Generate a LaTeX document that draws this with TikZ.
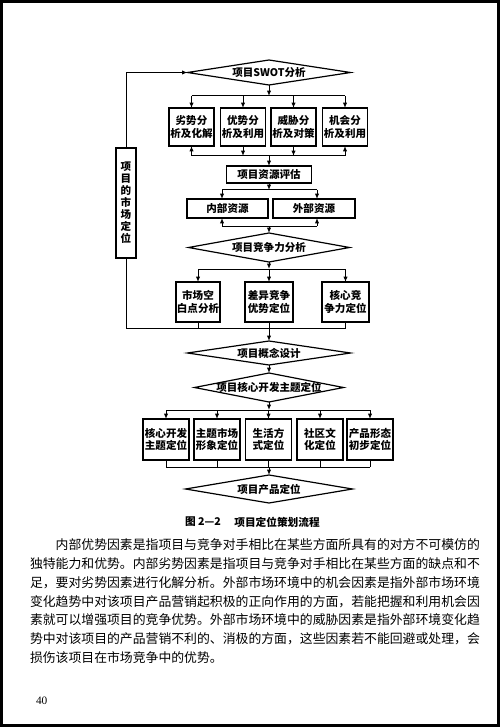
\documentclass[tikz,border=0pt]{standalone}
\usepackage{fontspec}
\setmainfont{Liberation Serif}
\newfontfamily\cjk{Noto Sans CJK SC}
\usetikzlibrary{shapes.geometric,arrows.meta}
\begin{document}
\begin{tikzpicture}[x=0.75pt,y=-0.75pt,
  every node/.style={inner sep=0pt,outer sep=0pt},
  flowbox/.style={draw,line width=0.9pt,align=center,font=\cjk\bfseries\fontsize{7.9pt}{9.2pt}\selectfont},
  flowdia/.style={draw,diamond,line width=0.9pt},
  flowtxt/.style={font=\cjk\bfseries\fontsize{7.9pt}{9.2pt}\selectfont},
  link/.style={line width=0.75pt},
  arr/.style={link,-{Latex[length=4pt,width=3.2pt]}},
  para/.style={anchor=west,font=\cjk\fontsize{9.64pt}{9.64pt}\selectfont}]
\useasboundingbox (0,0) rectangle (500,727);
\fill[white] (0,0) rectangle (500,727);
\draw[line width=2.2pt] (1.5,1.5) rectangle (498.5,725.5);

% ---- stage 1: SWOT
\node[flowdia,minimum width=122.25pt,minimum height=18.75pt] (swot) at (269,72.5) {};
\node[flowtxt] at (swot.center) {项目SWOT分析};
\node[flowbox,minimum width=33.75pt,minimum height=28.5pt] (r1a) at (191.5,127) {劣势分\\析及化解};
\node[flowbox,minimum width=33.75pt,minimum height=28.5pt] (r1b) at (243,127) {优势分\\析及利用};
\node[flowbox,minimum width=33.75pt,minimum height=28.5pt] (r1c) at (293.5,127) {威胁分\\析及对策};
\node[flowbox,minimum width=33.75pt,minimum height=28.5pt] (r1d) at (345,127) {机会分\\析及利用};
\coordinate (b1) at (0,96);
\draw[arr] (swot.south) -- (swot.south |- b1);
\draw[link] (b1 -| r1a) -- (b1 -| r1d);
\foreach \n in {r1a,r1b,r1c,r1d} \draw[arr] (b1 -| \n) -- (\n.north);

% ---- left box
\node[flowbox,minimum width=15pt,minimum height=82.5pt,font=\cjk\bfseries\fontsize{7.9pt}{9pt}\selectfont] (mkt) at (126,203) {项\\目\\的\\市\\场\\定\\位};
\draw[arr] (mkt.north) |- (swot.west);

% ---- resource evaluation
\node[flowbox,minimum width=63.75pt,minimum height=12.75pt] (res) at (269,174.5) {项目资源评估};
\coordinate (b2) at (0,156);
\draw[link] (b2 -| r1a) -- (b2 -| r1d);
\draw[arr] (b2 -| r1a) -- (r1a.south);
\draw[arr] (r1b.south) -- (b2 -| r1b);
\draw[arr] (r1c.south) -- (b2 -| r1c);
\draw[arr] (b2 -| r1d) -- (r1d.south);
\draw[arr] (b2 -| res) -- (res.north);

\node[flowbox,minimum width=60.75pt,minimum height=14.25pt] (inr) at (227.5,208.5) {内部资源};
\node[flowbox,minimum width=61.5pt,minimum height=14.25pt] (outr) at (314,208.5) {外部资源};
\coordinate (c3a) at (222,190);
\coordinate (c3b) at (317,190);
\draw[arr] (res.south) -- (res.south |- c3a);
\draw[link] (c3a) -- (c3b);
\draw[arr] (c3a) -- (c3a |- inr.north);
\draw[arr] (c3b) -- (c3b |- outr.north);

% ---- competitiveness
\node[flowdia,minimum width=120.75pt,minimum height=21.75pt] (comp) at (269,247.5) {};
\node[flowtxt] at (comp.center) {项目竞争力分析};
\coordinate (c4a) at (222,226);
\coordinate (c4b) at (317,226);
\draw[link] (c4a) -- (c4b);
\draw[arr] (c4a) -- (c4a |- inr.south);
\draw[arr] (c4b) -- (c4b |- outr.south);
\draw[arr] (c4a -| comp) -- (comp.north);

\node[flowbox,minimum width=33pt,minimum height=30pt] (r3a) at (198,302) {市场空\\白点分析};
\node[flowbox,minimum width=36pt,minimum height=30pt] (r3b) at (269,302) {差异竞争\\优势定位};
\node[flowbox,minimum width=35.25pt,minimum height=30pt] (r3c) at (345.5,302) {核心竞\\争力定位};
\coordinate (b5) at (0,269);
\draw[arr] (comp.south) -- (comp.south |- b5);
\draw[link] (b5 -| r3a) -- (b5 -| r3c);
\foreach \n in {r3a,r3b,r3c} \draw[arr] (b5 -| \n) -- (\n.north);

% ---- concept design
\node[flowdia,minimum width=122.25pt,minimum height=18pt] (concept) at (269,353) {};
\node[flowtxt] at (concept.center) {项目概念设计};
\coordinate (b6) at (0,328);
\draw[link] (mkt.south) |- (b6 -| r3c);
\foreach \n in {r3a,r3b,r3c} \draw[link] (\n.south) -- (b6 -| \n);
\draw[arr] (b6 -| concept) -- (concept.north);

% ---- core theme
\node[flowdia,minimum width=111.75pt,minimum height=21.75pt] (core) at (269,387.5) {};
\node[flowtxt] at (core.center) {项目核心开发主题定位};
\draw[arr] (concept.south) -- (core.north);

\node[flowbox,minimum width=34.5pt,minimum height=30.75pt] (r5a) at (166,439.5) {核心开发\\主题定位};
\node[flowbox,minimum width=34.5pt,minimum height=30.75pt] (r5b) at (217,439.5) {主题市场\\形象定位};
\node[flowbox,minimum width=34.5pt,minimum height=30.75pt] (r5c) at (268.5,439.5) {生活方\\式定位};
\node[flowbox,minimum width=34.5pt,minimum height=30.75pt] (r5d) at (320,439.5) {社区文\\化定位};
\node[flowbox,minimum width=34.5pt,minimum height=30.75pt] (r5e) at (370,439.5) {产品形态\\初步定位};
\coordinate (b8) at (0,410);
\draw[arr] (core.south) -- (core.south |- b8);
\draw[link] (b8 -| r5a) -- (b8 -| r5e);
\foreach \n in {r5a,r5b,r5c,r5d,r5e} \draw[arr] (b8 -| \n) -- (\n.north);

% ---- product positioning
\node[flowdia,minimum width=125.25pt,minimum height=21pt] (prod) at (269,489) {};
\node[flowtxt] at (prod.center) {项目产品定位};
\coordinate (b9) at (0,467);
\draw[link] (b9 -| r5a) -- (b9 -| r5e);
\foreach \n in {r5a,r5b,r5c,r5d,r5e} \draw[link] (\n.south) -- (b9 -| \n);
\draw[arr] (b9 -| prod) -- (prod.north);

% ---- caption
\node[font=\cjk\bfseries\fontsize{8pt}{8pt}\selectfont] (capa) at (203,522) {图 2—2};
\node[font=\cjk\bfseries\fontsize{8pt}{8pt}\selectfont] (capb) at (277,522) {项目定位策划流程};

% ---- paragraph
\node[para] (l1) at (55.7,545) {内部优势因素是指项目与竞争对手相比在某些方面所具有的对方不可模仿的};
\node[para] (l2) at (30,564) {独特能力和优势。内部劣势因素是指项目与竞争对手相比在某些方面的缺点和不};
\node[para] (l3) at (30,583) {足，要对劣势因素进行化解分析。外部市场环境中的机会因素是指外部市场环境};
\node[para] (l4) at (30,601.5) {变化趋势中对该项目产品营销起积极的正向作用的方面，若能把握和利用机会因};
\node[para] (l5) at (30,620) {素就可以增强项目的竞争优势。外部市场环境中的威胁因素是指外部环境变化趋};
\node[para] (l6) at (30,639) {势中对该项目的产品营销不利的、消极的方面，这些因素若不能回避或处理，会};
\node[para] (l7) at (30,658) {损伤该项目在市场竞争中的优势。};
\node[anchor=west,font=\fontsize{8.5pt}{8.5pt}\selectfont] (pg) at (36,701) {40};
\end{tikzpicture}
\end{document}
